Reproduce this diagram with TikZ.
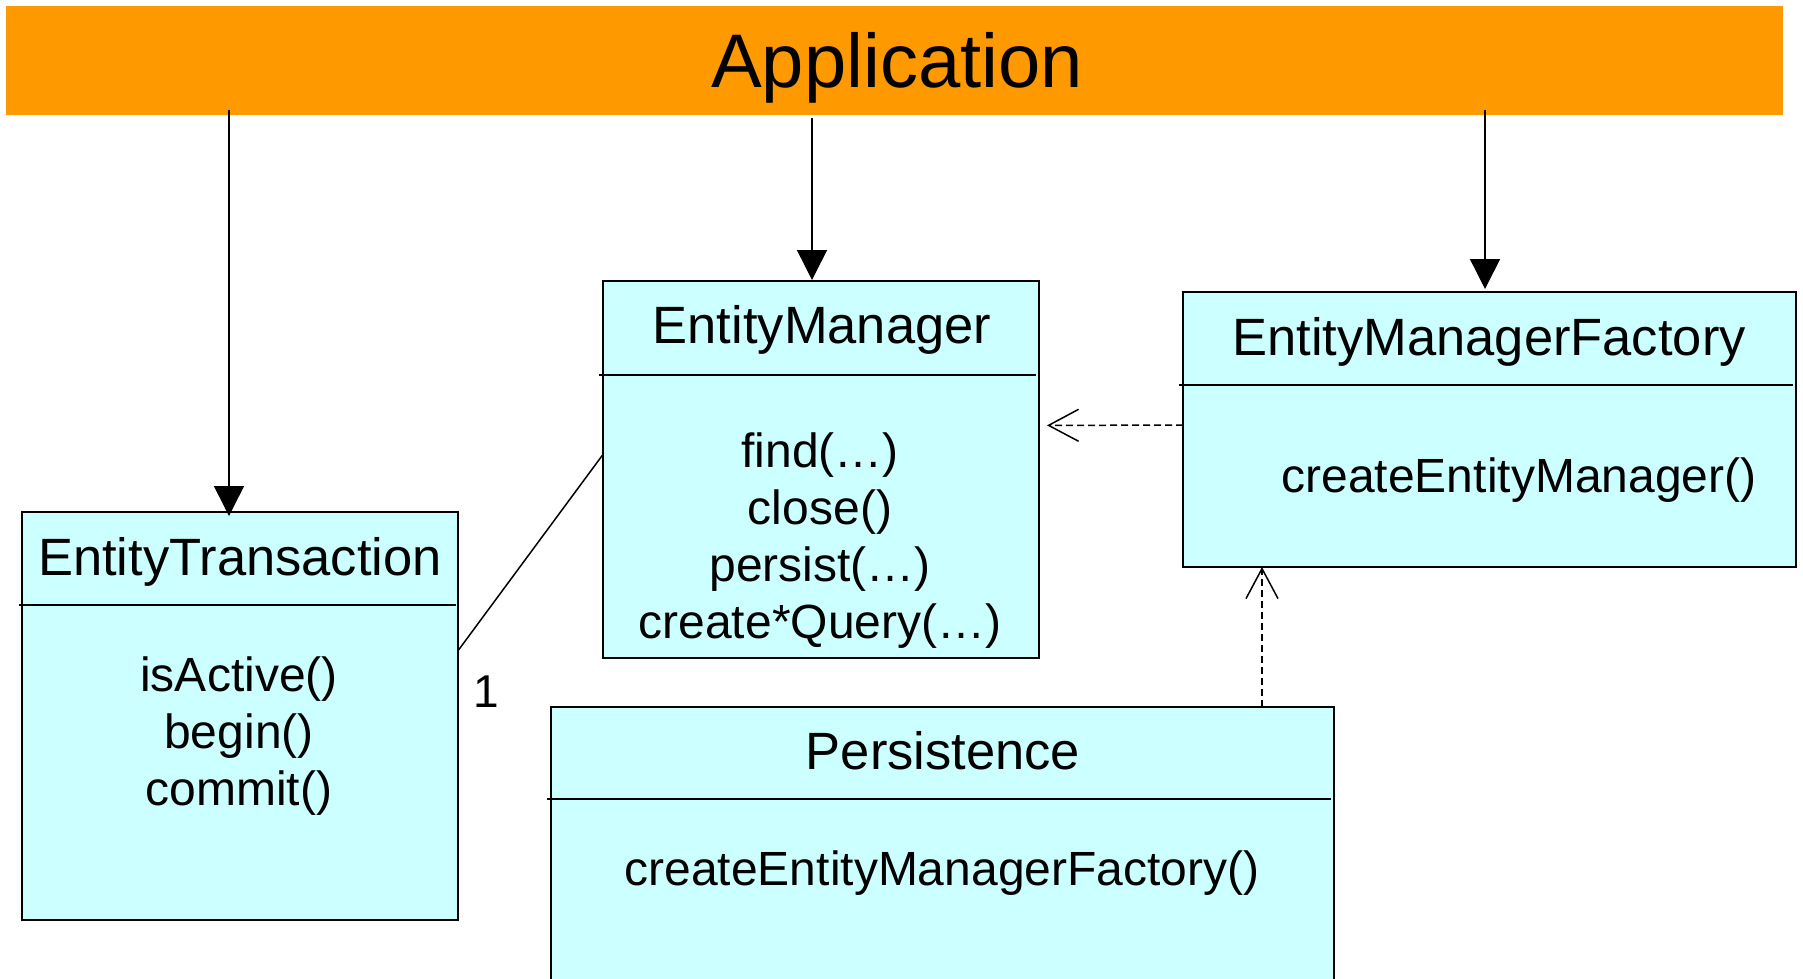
\documentclass[tikz,border=0pt]{standalone}
\usepackage{fontspec}
\setmainfont{Liberation Sans}
\usetikzlibrary{arrows.meta,calc}
\definecolor{appOrange}{RGB}{255,153,0}
\definecolor{classCyan}{RGB}{204,255,255}
\tikzset{
  classbox/.style={draw=black, line width=2pt, fill=classCyan, inner sep=0pt, outer sep=0pt, anchor=north west},
  divider/.style={line width=2pt},
  classtitle/.style={font=\fontsize{52.5}{60}\selectfont, anchor=base, inner sep=0pt},
  method/.style={font=\fontsize{48}{57}\selectfont, anchor=base, inner sep=0pt},
  navarrow/.style={line width=1.5pt, -{Triangle[length=30pt,width=30pt]}},
  assoc/.style={line width=1.5pt},
  depend/.style={line width=1.5pt, dash pattern=on 7pt off 4pt, -{Straight Barb[length=30pt,width=32pt,line width=1.5pt]}}
}
\begin{document}
\begin{tikzpicture}[x=1pt,y=-1pt]
  \useasboundingbox (0,0) rectangle (1803,979);
  \fill[white] (0,0) rectangle (1803,979);
  \clip (0,0) rectangle (1803,979);

  % top bar
  \node[fill=appOrange, inner sep=0pt, outer sep=0pt, minimum width=1777pt, minimum height=109pt, anchor=north west] (app) at (6,6) {};
  \node[font=\fontsize{76}{80}\selectfont, anchor=base, inner sep=0pt] (apptext) at (897,88) {Application};

  % EntityTransaction
  \node[classbox, minimum width=436pt, minimum height=408pt] (et) at (22,512) {};
  \draw[divider] ($(et.north west)+(-3,93)$) -- ($(et.north east)+(-2,93)$);
  \node[classtitle] (ettitle) at (240,575) {EntityTransaction};
  \node[method] (etm1) at (239,691) {isActive()};
  \node[method] (etm2) at (239,748) {begin()};
  \node[method] (etm3) at (239,805) {commit()};

  % EntityManager
  \node[classbox, minimum width=436pt, minimum height=377pt] (em) at (603,281) {};
  \draw[divider] ($(em.north west)+(-4,94)$) -- ($(em.north east)+(-3,94)$);
  \node[classtitle] (emtitle) at (822,343) {EntityManager};
  \node[method] (emm1) at (820,467) {find(…)};
  \node[method] (emm2) at (820,524) {close()};
  \node[method] (emm3) at (820,581) {persist(…)};
  \node[method] (emm4) at (820,638) {create*Query(…)};

  % EntityManagerFactory
  \node[classbox, minimum width=613pt, minimum height=275pt] (emf) at (1183,292) {};
  \draw[divider] ($(emf.north west)+(-4,93)$) -- ($(emf.north east)+(-3,93)$);
  \node[classtitle] (emftitle) at (1489,355) {EntityManagerFactory};
  \node[method] (emfm1) at (1519,492) {createEntityManager()};

  % Persistence
  \node[classbox, minimum width=783pt, minimum height=300pt] (per) at (551,707) {};
  \draw[divider] ($(per.north west)+(-4,92)$) -- ($(per.north east)+(-3,92)$);
  \node[classtitle] (pertitle) at (943,769) {Persistence};
  \node[method] (perm1) at (942,885) {createEntityManagerFactory()};

  % navigation from the application
  \coordinate (a1) at (229,110);
  \coordinate (a2) at (812,118);
  \coordinate (a3) at (1485,110);
  \draw[navarrow] (a1) -- ($(a1 |- et.north)+(0,4)$);
  \draw[navarrow] (a2) -- ($(a2 |- em.north)+(0,-1)$);
  \draw[navarrow] (a3) -- ($(a3 |- emf.north)+(0,-3)$);

  % association between transaction and manager
  \draw[assoc] ($(et.north east)!0.34!(et.south east)$) -- ($(em.north west)!0.46!(em.south west)$);
  \node[font=\fontsize{46}{50}\selectfont, anchor=base, inner sep=0pt] (mult) at (486,707) {1};

  % dependencies
  \draw[depend, shorten >=8pt] ($(emf.north west)!0.484!(emf.south west)$) -- ($(em.north east)!0.383!(em.south east)$);
  \coordinate (vx) at (1262,0);
  \draw[depend] (per.north -| vx) -- (emf.south -| vx);
\end{tikzpicture}
\end{document}
